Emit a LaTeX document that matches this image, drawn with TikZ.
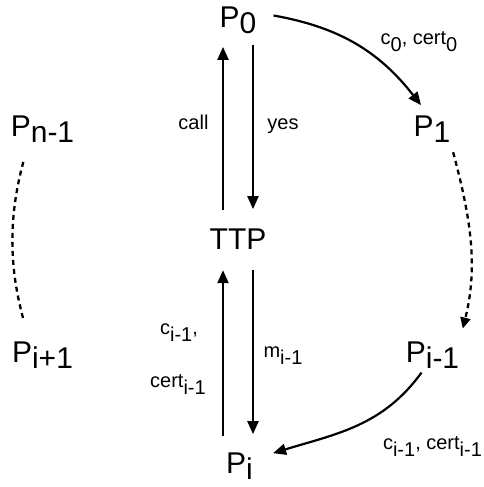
\documentclass[tikz,border=0pt]{standalone}
\usepackage{fontspec}
\setmainfont{Liberation Sans}
\usepackage{graphicx}
\usepackage{tikz}
\usetikzlibrary{arrows.meta, positioning, calc}
\newcommand{\psub}[1]{\raisebox{-0.18em}{#1}}
\newcommand{\msub}[1]{\raisebox{-0.35em}{#1}}
\tikzset{
  party/.style={
    font=\fontsize{30}{30}\selectfont,
    inner sep=0pt, anchor=base
  },
  msg/.style={
    font=\fontsize{20}{20}\selectfont,
    inner sep=0pt, anchor=base
  },
  arrow/.style={
    -{Triangle[length=13pt, width=11pt]},
    line width=2.2pt
  },
  darrow/.style={
    line width=2.3pt,
    dash pattern=on 5pt off 4pt
  }
}

\begin{document}
\begin{tikzpicture}[x=1pt, y=1pt]
\useasboundingbox (0,0) rectangle (484,487);

%------------------------------------------------------
% NODES (parties round the ring)
%------------------------------------------------------

% 1. the trusted third party in the middle
\node[party] (ttp) at (238,237) {TTP};

% 2. ring members
\node[party] (p0)   at (238,459)   {P\psub{0}};
\node[party] (p1)   at (432,350)   {P\psub{1}};
\node[party] (pim1) at (432.5,124) {P\psub{i-1}};
\node[party] (pi)   at (239.5,13)  {P\psub{i}};
\node[party] (pip1) at (42.5,124)  {P\psub{i+1}};
\node[party] (pnm1) at (42.5,350)  {P\psub{n-1}};

% 3. message labels
\node[msg] (lcert0) at (419,442)   {c\msub{0}, cert\msub{0}};
\node[msg] (lcall)  at (193.5,357) {call};
\node[msg] (lyes)   at (283,357)   {yes};
\node[msg] (lci)    at (179,152)   {c\msub{i-1},};
\node[msg] (lcerti) at (178,99)    {cert\msub{i-1}};
\node[msg] (lmi)    at (283,129)   {m\msub{i-1}};
\node[msg] (lring)  at (432.5,37)  {c\msub{i-1}, cert\msub{i-1}};

%------------------------------------------------------
% EDGES
%------------------------------------------------------

\draw[arrow, shorten <=19pt, shorten >=13pt] ([xshift=-15pt]ttp.north) -- ([xshift=-15pt]ttp.north |- p0.south);
\draw[arrow, shorten <=11pt, shorten >=20pt] ([xshift=15pt]ttp.north |- p0.south) -- ([xshift=15pt]ttp.north);
\draw[arrow, shorten <=17pt, shorten >=20pt] ([xshift=-15pt]ttp.south |- pi.north) -- ([xshift=-15pt]ttp.south);
\draw[arrow, shorten <=20pt, shorten >=19pt] ([xshift=15pt]ttp.south) -- ([xshift=15pt]ttp.south |- pi.north);
\draw[arrow] ([shift={(17pt,5pt)}]p0.east) to[out=-10, in=128] ([shift={(-11pt,11pt)}]p1.north);
\draw[arrow] ([shift={(-11pt,-4pt)}]pim1.south) to[out=234, in=17] ([shift={(20pt,0pt)}]pi.north east);
\draw[darrow, -{Triangle[length=11pt, width=10pt]}, shorten <=10pt, shorten >=14pt] (p1.south east) to[out=-75, in=76] (pim1.north east);
\draw[darrow, shorten <=20pt, shorten >=25pt] ([xshift=-14pt]pnm1.south) to[out=-105, in=105] ([xshift=-13pt]pip1.north);

\end{tikzpicture}
\end{document}
